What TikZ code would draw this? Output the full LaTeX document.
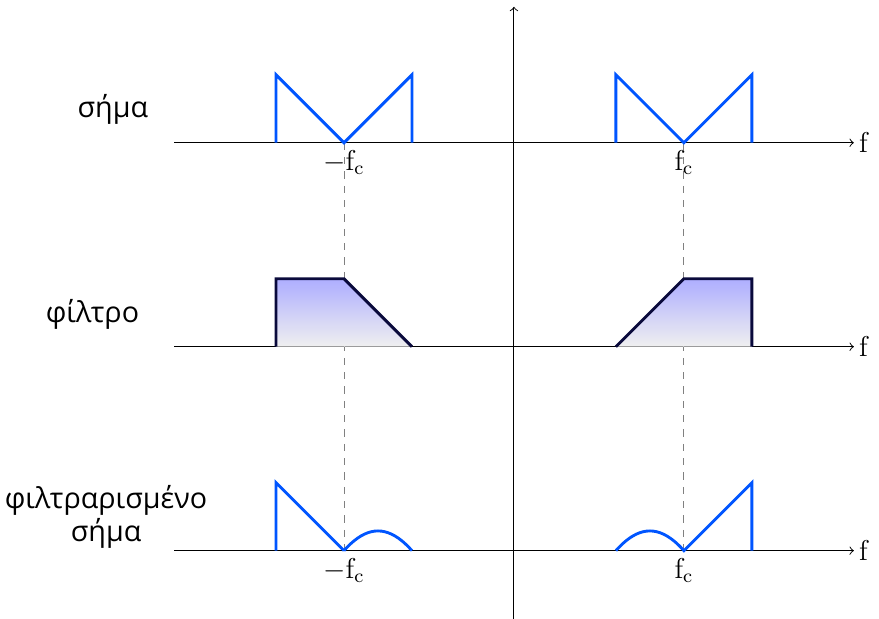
\documentclass[tikz,border=0pt]{standalone}
\usepackage{fontspec}
\newfontfamily\greekfont{Open Sans}
\definecolor{sigblue}{RGB}{0,85,255}
\definecolor{filtnavy}{RGB}{10,10,60}

\begin{document}
\begin{tikzpicture}[scale=1, every node/.style={font=\large},
    sig/.style={sigblue, very thick},
    filt/.style={filtnavy, very thick, top color=blue!32, bottom color=gray!12},
    rowlabel/.style={font=\large\greekfont, align=center}]
  \useasboundingbox (-7.56,-1) rectangle (5.37,8.1);
  % axes
  \draw[->] (0,-1) -- (0,8);
  \foreach \y/\nm in {6/top,3/mid,0/bot}
    \draw[->] (-5,\y) -- (5,\y) node[right, inner sep=2pt] (f\nm) {$\mathrm{f}$};
  \draw[dashed, gray] (-2.5,6) -- (-2.5,0);
  \draw[dashed, gray] (2.5,6) -- (2.5,0);
  % signal
  \draw[sig] (-3.5,6) -- (-3.5,7) -- (-2.5,6) -- (-1.5,7) -- (-1.5,6);
  \draw[sig] (1.5,6) -- (1.5,7) -- (2.5,6) -- (3.5,7) -- (3.5,6);
  \node[below, inner sep=3pt] (fcl) at (-2.5,6) {$-\mathrm{f}_\mathrm{c}$};
  \node[below, inner sep=3pt] (fcr) at (2.5,6) {$\mathrm{f}_\mathrm{c}$};
  % filter
  \draw[filt] (-3.5,3) -- (-3.5,4) -- (-2.5,4) -- (-1.5,3);
  \draw[filt] (1.5,3) -- (2.5,4) -- (3.5,4) -- (3.5,3);
  % filtered signal
  \draw[sig] (-3.5,0) -- (-3.5,1) -- (-2.5,0)
    plot[smooth, domain=0:1, samples=21] ({-2.5+\x}, {\x*(1-\x)+0.04*sin(180*\x)});
  \draw[sig] plot[smooth, domain=0:1, samples=21] ({1.5+\x}, {\x*(1-\x)+0.04*sin(180*\x)})
    -- (2.5,0) -- (3.5,1) -- (3.5,0);
  \node[below, inner sep=3pt] (fcbl) at (-2.5,0) {$-\mathrm{f}_\mathrm{c}$};
  \node[below, inner sep=3pt] (fcbr) at (2.5,0) {$\mathrm{f}_\mathrm{c}$};
  % row labels
  \node[rowlabel] (lsig) at (-5.9,6.49) {σήμα};
  \node[rowlabel] (lfilt) at (-6.2,3.47) {φίλτρο};
  \node[rowlabel] (lout) at (-6.0,0.5) {φιλτραρισμένο\\σήμα};
\end{tikzpicture}
\end{document}
